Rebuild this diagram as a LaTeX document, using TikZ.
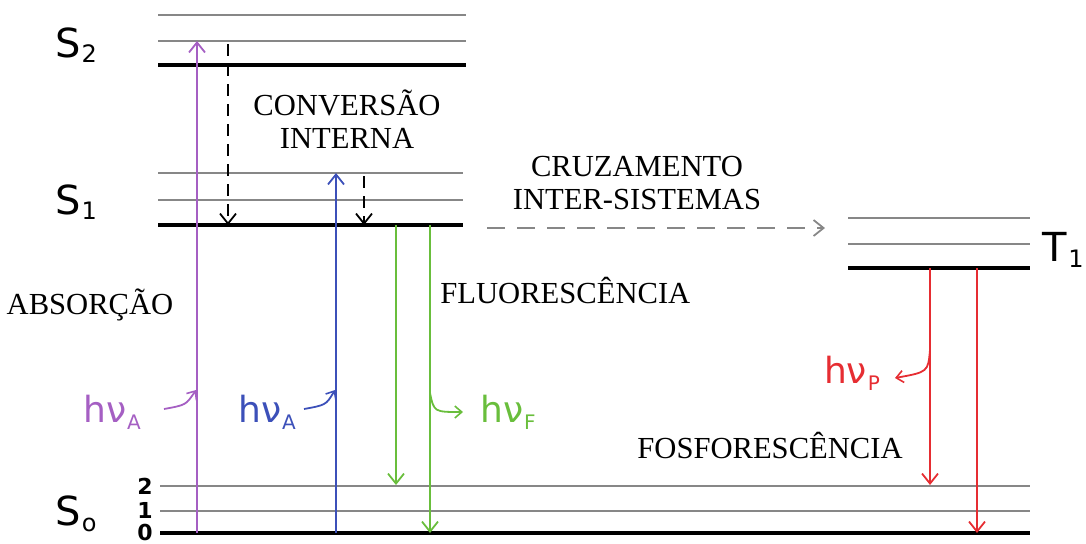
\documentclass[tikz,border=0pt]{standalone}
\usepackage{fontspec}
\setmainfont{Liberation Serif}
\newfontfamily\symfont{DejaVu Sans}
\usetikzlibrary{arrows.meta}
\definecolor{cpurple}{RGB}{165,95,195}
\definecolor{cblue}{RGB}{60,80,185}
\definecolor{cgreen}{RGB}{105,190,60}
\definecolor{cred}{RGB}{230,45,50}
\definecolor{cgray}{RGB}{135,135,135}
\newcommand{\lvlname}[2]{{\symfont\fontsize{20}{20}\selectfont #1\kern0.5pt\raisebox{-0.25ex}{\fontsize{12}{12}\selectfont #2}}}
\newcommand{\hnu}[1]{{\symfont\fontsize{18}{18}\selectfont hν\kern0.5pt\raisebox{-0.35ex}{\fontsize{10}{10}\selectfont #1}}}
\tikzset{
  thin level/.style={draw=cgray, line width=1.3pt},
  thick level/.style={draw=black, line width=2.1pt},
  barb/.style={-{Straight Barb[length=5pt,width=8pt,line width=0.9pt]}},
  smallbarb/.style={-{Straight Barb[length=3.5pt,width=6pt,line width=0.8pt]}},
  trans/.style={barb, line width=1pt},
  dashblack/.style={barb, line width=1.2pt, dash pattern=on 6pt off 4pt},
  label text/.style={font=\fontsize{15.3}{16.5}\selectfont, align=center, inner sep=0pt},
}
\begin{document}
\begin{tikzpicture}[x=0.5pt,y=-0.5pt]
\useasboundingbox (0,0) rectangle (1086,543);
% S2
\draw[thin level] (158,15) -- (466,15);
\draw[thin level] (158,41) -- (466,41);
\draw[thick level] (158,65) -- (466,65);
% S1
\draw[thin level] (158,173) -- (463,173);
\draw[thin level] (158,200) -- (463,200);
\draw[thick level] (158,225) -- (463,225);
% T1
\draw[thin level] (848,218) -- (1030,218);
\draw[thin level] (848,244) -- (1030,244);
\draw[thick level] (848,268) -- (1030,268);
% S0
\draw[thin level] (160,486) -- (1030,486);
\draw[thin level] (160,511) -- (1030,511);
\draw[thick level] (160,533) -- (1030,533);

% level labels
\node (s2) at (76,45) {\lvlname{S}{2}};
\node (s1) at (76,202) {\lvlname{S}{1}};
\node (s0) at (76,514) {\lvlname{S}{o}};
\node[anchor=east, inner sep=0pt] (t1) at (1084,250) {\lvlname{T}{1}};
\node[font=\symfont\fontsize{11}{11}\selectfont\bfseries, inner sep=0pt] (v2) at (145,486) {2};
\node[font=\symfont\fontsize{11}{11}\selectfont\bfseries, inner sep=0pt] (v1) at (145,510) {1};
\node[font=\symfont\fontsize{11}{11}\selectfont\bfseries, inner sep=0pt] (v0) at (145,532) {0};

% coordinates
\coordinate (pA) at (197,533); \coordinate (pB) at (197,41);
\coordinate (bA) at (336,533); \coordinate (bB) at (336,173);
\coordinate (d1A) at (228,44); \coordinate (d1B) at (228,225);
\coordinate (d2A) at (364,176); \coordinate (d2B) at (364,225);
\coordinate (g1A) at (396,225); \coordinate (g1B) at (396,485);
\coordinate (g2A) at (430,225); \coordinate (g2B) at (430,533);
\coordinate (r1A) at (930,268); \coordinate (r1B) at (930,485);
\coordinate (r2A) at (977,268); \coordinate (r2B) at (977,533);
\coordinate (iscA) at (487,228); \coordinate (iscB) at (825,228);

% transitions
\draw[trans, cpurple] (pA) -- (pB);
\draw[trans, cblue] (bA) -- (bB);
\draw[dashblack] (d1A) -- (d1B);
\draw[dashblack] (d2A) -- (d2B);
\draw[trans, cgreen] (g1A) -- (g1B);
\draw[trans, cgreen] (g2A) -- (g2B);
\draw[trans, cred] (r1A) -- (r1B);
\draw[trans, cred] (r2A) -- (r2B);
\draw[barb, cgray, line width=1.3pt, dash pattern=on 9pt off 6pt] (iscA) -- (iscB);

% photon labels
\node[text=cpurple] (hpa) at (112,412) {\hnu{A}};
\node[text=cblue] (hba) at (267,412) {\hnu{A}};
\node[text=cgreen] (hgf) at (508,412) {\hnu{F}};
\node[text=cred] (hrp) at (852,373) {\hnu{P}};
\coordinate (pa1) at (164,409); \coordinate (pa2) at (196,390);
\coordinate (ba1) at (304,409); \coordinate (ba2) at (335,390);
\coordinate (gf1) at (430,393); \coordinate (gf2) at (463,412);
\coordinate (rp1) at (930,350); \coordinate (rp2) at (895,378);
\draw[smallbarb, cpurple, line width=0.9pt] (pa1) .. controls (186,405) .. (pa2);
\draw[smallbarb, cblue, line width=0.9pt] (ba1) .. controls (326,405) .. (ba2);
\draw[smallbarb, cgreen, line width=0.9pt] (gf1) .. controls (434,412) .. (gf2);
\draw[smallbarb, cred, line width=0.9pt] (rp1) .. controls (928,372) .. (rp2);

% process labels
\node[label text] (ci) at (347,119) {CONVERSÃO\\INTERNA};
\node[label text] (cis) at (637,183) {CRUZAMENTO\\INTER-SISTEMAS};
\node[label text] (abs) at (90,305) {ABSORÇÃO};
\node[label text, anchor=west] (flu) at (440,290) {FLUORESCÊNCIA};
\node[label text, anchor=west] (fos) at (637,445) {FOSFORESCÊNCIA};
\end{tikzpicture}
\end{document}
